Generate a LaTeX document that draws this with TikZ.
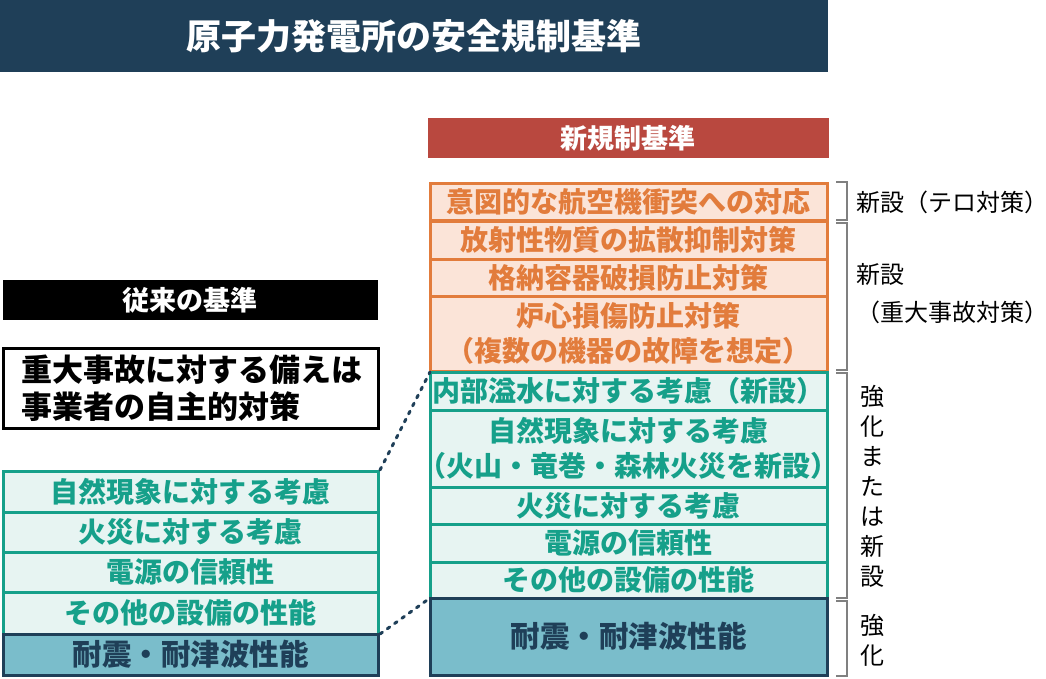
\documentclass[tikz,border=0pt]{standalone}
\usepackage{fontspec}
\setmainfont{Noto Sans CJK JP}
\usetikzlibrary{positioning}
\definecolor{navy}{HTML}{1F3F58}
\definecolor{brick}{HTML}{B9483F}
\definecolor{orng}{HTML}{E27C3C}
\definecolor{orngfill}{HTML}{FBE4D8}
\definecolor{teal}{HTML}{16A08A}
\definecolor{tealfill}{HTML}{E7F4F2}
\definecolor{quake}{HTML}{7ABDCB}
\tikzset{
    orbox/.style={draw=orng, line width=3pt, fill=orngfill, text=orng, font=\bfseries\fontsize{28}{35}\selectfont, align=center},
    tlbox/.style={draw=teal, line width=3pt, fill=tealfill, text=teal, font=\bfseries\fontsize{28}{35}\selectfont, align=center},
    qkbox/.style={draw=navy, line width=3pt, fill=quake, text=navy, font=\bfseries\fontsize{29.5}{32}\selectfont, align=center},
    brace/.style={draw=gray, line width=1.2pt},
    side/.style={font=\fontsize{24}{38}\selectfont, anchor=west, align=left}
}
\newcommand{\rbox}[4]{%
    \draw[#1] (#2) rectangle (#3);
    \path (#2) -- (#3) node [midway, #1, draw=none, fill=none] {#4};%
}
\begin{document}
\begin{tikzpicture}[x=1pt,y=-1pt]
    \useasboundingbox (0,0) rectangle (1046,678);
    \fill[navy] (0,0) rectangle (828,72);
    \node[text=white, font=\bfseries\fontsize{35}{38}\selectfont] (title) at (414,36) {原子力発電所の安全規制基準};
    \fill[brick] (428,118) rectangle (829,158);
    \node[text=white, font=\bfseries\fontsize{27}{30}\selectfont] (newstd) at (628,138) {新規制基準};

    % new standard
    \rbox{orbox}{430,183}{827,220}{意図的な航空機衝突への対応};
    \rbox{orbox}{430,221}{827,259}{放射性物質の拡散抑制対策};
    \rbox{orbox}{430,259}{827,296}{格納容器破損防止対策};
    \rbox{orbox}{430,296}{827,371}{炉心損傷防止対策\\（複数の機器の故障を想定）};
    \rbox{tlbox}{430,372}{827,410}{内部溢水に対する考慮（新設）};
    \rbox{tlbox}{430,410}{827,487}{自然現象に対する考慮\\（火山・竜巻・森林火災を新設）};
    \rbox{tlbox}{430,487}{827,524}{火災に対する考慮};
    \rbox{tlbox}{430,524}{827,562}{電源の信頼性};
    \rbox{tlbox}{430,562}{827,598}{その他の設備の性能};
    \rbox{qkbox}{430,598}{827,675}{耐震・耐津波性能};

    % brackets
    \draw[brace] (836,182) -- (847,182) -- (847,220) -- (836,220);
    \draw[brace] (836,223) -- (847,223) -- (847,370) -- (836,370);
    \draw[brace] (836,373) -- (847,373) -- (847,598) -- (836,598);
    \draw[brace] (836,601) -- (847,601) -- (847,676) -- (836,676);
    \node[side, inner sep=0pt] (terror) at (856,202) {新設（テロ対策）};
    \node[side, inner sep=0pt] (severe) at (856,294) {新設\\（重大事故対策）};
    \node[side, font=\fontsize{24}{30}\selectfont, inner sep=0pt] (enh) at (860,486) {強\\化\\ま\\た\\は\\新\\設};
    \node[side, font=\fontsize{24}{30}\selectfont, inner sep=0pt] (enh2) at (860,640) {強\\化};

    % old standard
    \fill[black] (3,280) rectangle (378,320);
    \node[text=white, font=\bfseries\fontsize{27}{30}\selectfont] (oldstd) at (190,300) {従来の基準};
    \draw[line width=3pt, fill=white] (3,348) rectangle (378,428);
    \node[font=\bfseries\fontsize{31}{37}\selectfont, align=left] (self) at (192,388) {重大事故に対する備えは\\事業者の自主的対策};
    \rbox{tlbox}{3,471}{378,512}{自然現象に対する考慮};
    \rbox{tlbox}{3,512}{378,552}{火災に対する考慮};
    \rbox{tlbox}{3,552}{378,592}{電源の信頼性};
    \rbox{tlbox}{3,592}{378,634}{その他の設備の性能};
    \rbox{qkbox}{3,634}{378,675}{耐震・耐津波性能};

    \coordinate (oa) at (380,470);
    \coordinate (na) at (430,372);
    \coordinate (ob) at (380,634);
    \coordinate (nb) at (430,598);
    \draw[navy, line width=3pt, dash pattern=on 3pt off 6pt, line cap=round] (oa) -- (na);
    \draw[navy, line width=3pt, dash pattern=on 3pt off 6pt, line cap=round] (ob) -- (nb);
\end{tikzpicture}
\end{document}
